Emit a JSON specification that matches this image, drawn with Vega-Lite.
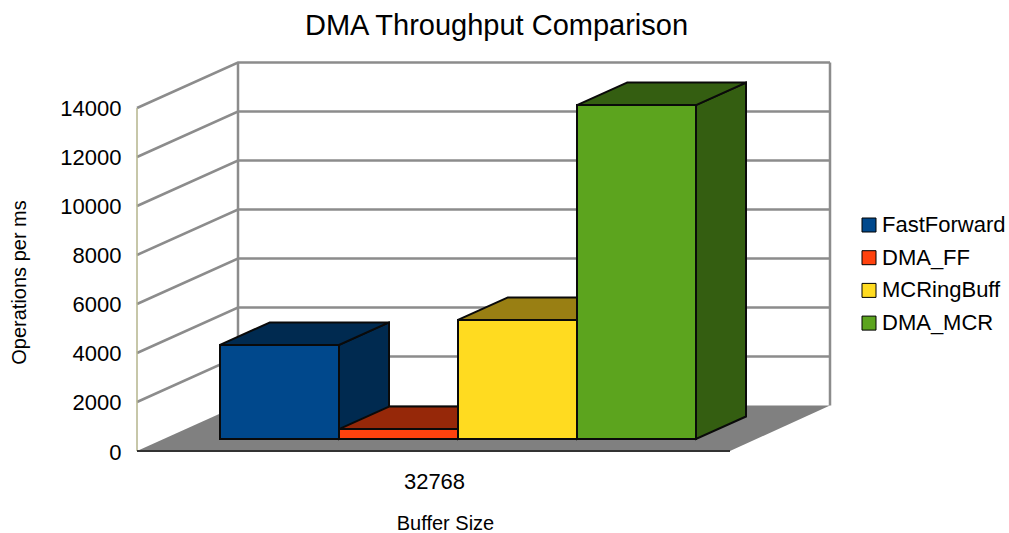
{
"$schema":"https://vega.github.io/schema/vega-lite/v6.json",
"autosize":{"type":"none"},
"width":693,"height":391,
"padding":{"left":137,"top":60,"right":179,"bottom":82},
"background":"white",
"config":{"font":"Liberation Sans","view":{"stroke":null}},
"title":{"text":"DMA Throughput Comparison","font":"Liberation Sans","fontSize":29,"fontWeight":"normal","color":"#000000","anchor":"middle","frame":"group","dx":13,"offset":16},
"datasets":{
"bars":[
{"bufferSize":"32768","series":"FastForward","slot":0,"value":3840,"depth":[0,1]},
{"bufferSize":"32768","series":"DMA_FF","slot":1,"value":405,"depth":[0,1]},
{"bufferSize":"32768","series":"MCRingBuff","slot":2,"value":4860,"depth":[0,1]},
{"bufferSize":"32768","series":"DMA_MCR","slot":3,"value":13630,"depth":[0,1]}
],
"ticks":[
{"tick":2000,"corner":[0,1,2]},{"tick":4000,"corner":[0,1,2]},{"tick":6000,"corner":[0,1,2]},{"tick":8000,"corner":[0,1,2]},{"tick":10000,"corner":[0,1,2]},{"tick":12000,"corner":[0,1,2]},{"tick":14000,"corner":[0,1,2]}
],
"edges":[
{"edge":"backLeft","tick":[0,14000]},{"edge":"backRight","tick":[0,14000]}
],
"leftEdge":[{"tick":[0,14000]}],
"floor":[{"depth":[0,1]}],
"floorEdge":[{"corner":[0,593]}]
},
"encoding":{
"x":{"field":"px","type":"quantitative","scale":{"domain":[0,693],"nice":false,"zero":false},
"axis":{"values":[297],"labelExpr":"'32768'","title":"Buffer Size","domain":false,"ticks":false,"grid":false,"labelFontSize":22,"labelFont":"Liberation Sans","labelColor":"#000000","labelPadding":20,"titleFontSize":20,"titleFont":"Liberation Sans","titleFontWeight":"normal","titleColor":"#000000","titleX":308,"titleY":72.5,"titleBaseline":"middle"}},
"y":{"field":"py","type":"quantitative","stack":null,"scale":{"domain":[0,15959],"nice":false,"zero":false},
"axis":{"values":[0,2000,4000,6000,8000,10000,12000,14000],"format":"d","title":"Operations per ms","domain":false,"ticks":false,"grid":false,"labelFontSize":22,"labelFont":"Liberation Sans","labelColor":"#000000","labelPadding":16,"labelOffset":1,"titleFontSize":20,"titleFont":"Liberation Sans","titleFontWeight":"normal","titleColor":"#000000","titleX":-108,"titleY":222}}
},
"layer":[
{"data":{"name":"ticks"},
 "transform":[{"flatten":["corner"]},{"calculate":"datum.corner==0?0:(datum.corner==1?101:693)","as":"px"},{"calculate":"datum.tick+(datum.corner==0?0:1857)","as":"py"}],
 "mark":{"type":"line","stroke":"#8c8c8c","strokeWidth":2.5,"interpolate":"linear"},
 "encoding":{"detail":{"field":"tick"}}},
{"data":{"name":"edges"},
 "transform":[{"flatten":["tick"]},{"calculate":"datum.edge=='backLeft'?101:693","as":"px"},{"calculate":"datum.tick+1857","as":"py"}],
 "mark":{"type":"line","stroke":"#8c8c8c","strokeWidth":2.5},
 "encoding":{"detail":{"field":"edge"}}},
{"data":{"name":"leftEdge"},
 "transform":[{"flatten":["tick"]},{"calculate":"0","as":"px"},{"calculate":"datum.tick","as":"py"}],
 "mark":{"type":"line","stroke":"#b4b48c","strokeWidth":1.5},
 "encoding":{}},
{"data":{"name":"floor"},
 "transform":[{"flatten":["depth"]},{"calculate":"101*datum.depth","as":"px"},{"calculate":"593+100*datum.depth","as":"pxEnd"},{"calculate":"1857*datum.depth","as":"py"}],
 "mark":{"type":"area","orient":"horizontal","fill":"#808080"},
 "encoding":{"x2":{"field":"pxEnd"}}},
{"data":{"name":"floorEdge"},
 "transform":[{"flatten":["corner"]},{"calculate":"datum.corner","as":"px"},{"calculate":"0","as":"py"}],
 "mark":{"type":"line","stroke":"#333333","strokeWidth":2},
 "encoding":{}},
{"data":{"name":"bars"},
 "transform":[{"flatten":["depth"]},{"calculate":"202+119*datum.slot+50*datum.depth","as":"px"},{"calculate":"490+918*datum.depth+datum.value","as":"py"},{"calculate":"490+918*datum.depth","as":"pyBase"}],
 "mark":{"type":"area","stroke":"#0a0a0a","strokeWidth":2,"strokeJoin":"miter"},
 "encoding":{"y2":{"field":"pyBase"},
  "fill":{"field":"series","type":"nominal","legend":null,"scale":{"domain":["DMA_MCR","MCRingBuff","DMA_FF","FastForward"],"range":["#345e11","#997f13","#962809","#002a50"]}}}},
{"data":{"name":"bars"},
 "transform":[{"flatten":["depth"]},{"calculate":"83+119*datum.slot+50*datum.depth","as":"px"},{"calculate":"202+119*datum.slot+50*datum.depth","as":"pxEnd"},{"calculate":"490+918*datum.depth+datum.value","as":"py"}],
 "mark":{"type":"area","orient":"horizontal","stroke":"#0a0a0a","strokeWidth":2,"strokeJoin":"miter"},
 "encoding":{"x2":{"field":"pxEnd"},
  "fill":{"field":"series","type":"nominal","legend":null,"scale":{"domain":["DMA_MCR","MCRingBuff","DMA_FF","FastForward"],"range":["#345e11","#997f13","#962809","#002a50"]}}}},
{"data":{"name":"bars"},
 "transform":[{"calculate":"83+119*datum.slot","as":"px"},{"calculate":"202+119*datum.slot","as":"pxEnd"},{"calculate":"490+datum.value","as":"py"},{"calculate":"490","as":"pyBase"}],
 "mark":{"type":"rect","stroke":"#0a0a0a","strokeWidth":2},
 "encoding":{"x2":{"field":"pxEnd"},"y2":{"field":"pyBase"},
  "color":{"field":"series","type":"nominal","title":null,
   "scale":{"domain":["FastForward","DMA_FF","MCRingBuff","DMA_MCR"],"range":["#00488c","#ff420e","#ffdb20","#5ca41e"]},
   "legend":{"orient":"none","legendX":721,"legendY":154,"symbolType":"square","symbolSize":196,"symbolStrokeColor":"#000000","symbolStrokeWidth":1,"labelFontSize":22,"labelFont":"Liberation Sans","labelColor":"#000000","labelOffset":2,"rowPadding":10.7,"labelLimit":200}}}}
]
}
